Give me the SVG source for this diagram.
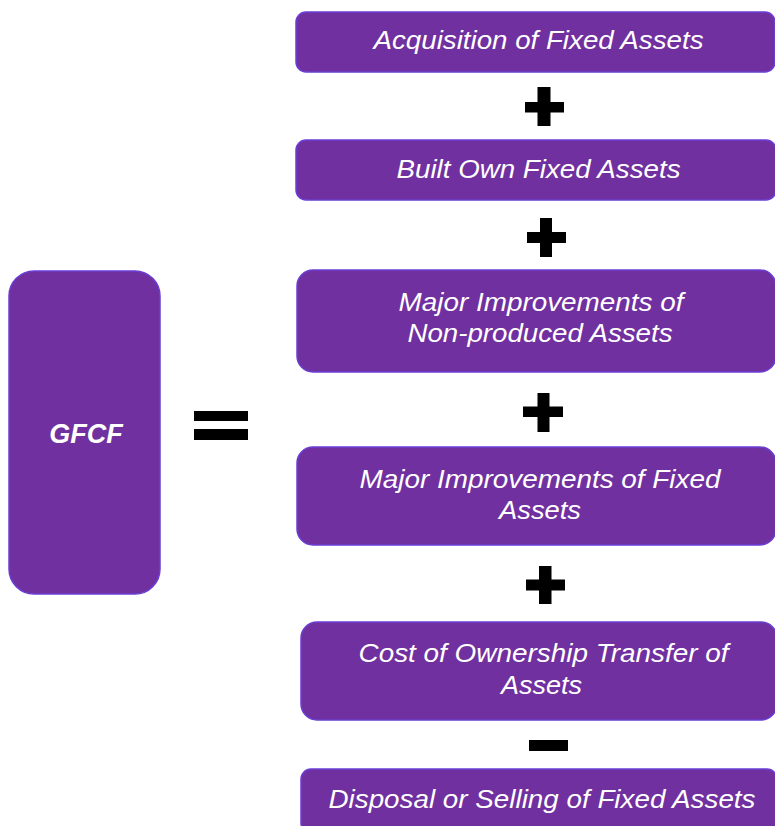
<svg xmlns="http://www.w3.org/2000/svg" width="775" height="826" viewBox="0 0 775 826">
  <style>
    .box { fill: #7030A0; stroke: #6a3ed4; stroke-width: 1.5; }
    .lbl { font-family: "Liberation Sans", Arial, sans-serif; font-style: italic; font-size: 25.5px; fill: #ffffff; text-anchor: middle; }
    .big { font-family: "Liberation Sans", Arial, sans-serif; font-style: italic; font-weight: bold; font-size: 27px; fill: #ffffff; text-anchor: middle; }
    .op { fill: #000000; }
  </style>
  <rect width="775" height="826" fill="#ffffff"/>

  <g id="gfcf">
    <rect class="box" x="9" y="271" width="151" height="323" rx="25" ry="25"/>
    <text class="big" x="86" y="443">GFCF</text>
  </g>

  <g id="n1">
    <rect class="box" x="296" y="12" width="479" height="60" rx="10" ry="10"/>
    <text class="lbl" x="538.5" y="48.5" textLength="330" lengthAdjust="spacingAndGlyphs">Acquisition of Fixed Assets</text>
  </g>
  <g id="n2">
    <rect class="box" x="296" y="140" width="480" height="60" rx="10" ry="10"/>
    <text class="lbl" x="538.5" y="178" textLength="284" lengthAdjust="spacingAndGlyphs">Built Own Fixed Assets</text>
  </g>
  <g id="n3">
    <rect class="box" x="297" y="270" width="479" height="102" rx="16" ry="16"/>
    <text class="lbl" x="541" y="310.5" textLength="285" lengthAdjust="spacingAndGlyphs">Major Improvements of</text>
    <text class="lbl" x="540" y="341.5" textLength="265" lengthAdjust="spacingAndGlyphs">Non-produced Assets</text>
  </g>
  <g id="n4">
    <rect class="box" x="297" y="447" width="479" height="98" rx="16" ry="16"/>
    <text class="lbl" x="540" y="488" textLength="361" lengthAdjust="spacingAndGlyphs">Major Improvements of Fixed</text>
    <text class="lbl" x="540" y="519" textLength="82" lengthAdjust="spacingAndGlyphs">Assets</text>
  </g>
  <g id="n5">
    <rect class="box" x="301" y="622" width="476" height="98" rx="16" ry="16"/>
    <text class="lbl" x="543.5" y="662" textLength="370" lengthAdjust="spacingAndGlyphs">Cost of Ownership Transfer of</text>
    <text class="lbl" x="541.5" y="694" textLength="81" lengthAdjust="spacingAndGlyphs">Assets</text>
  </g>
  <g id="n6">
    <rect class="box" x="301" y="769" width="476" height="64" rx="10" ry="10"/>
    <text class="lbl" x="542" y="807.5" textLength="427" lengthAdjust="spacingAndGlyphs">Disposal or Selling of Fixed Assets</text>
  </g>

  <g id="operators">
    <!-- equals -->
    <rect class="op" x="194" y="411" width="54" height="10"/>
    <rect class="op" x="194" y="429" width="54" height="11"/>
    <!-- plus 1 -->
    <rect class="op" x="525" y="102" width="39" height="10.5"/>
    <rect class="op" x="537.5" y="87" width="13" height="39"/>
    <!-- plus 2 -->
    <rect class="op" x="527" y="232" width="39" height="11"/>
    <rect class="op" x="540" y="218" width="12" height="39"/>
    <!-- plus 3 -->
    <rect class="op" x="523" y="406.5" width="40" height="10.5"/>
    <rect class="op" x="537.5" y="393" width="12" height="39"/>
    <!-- plus 4 -->
    <rect class="op" x="526" y="579.5" width="39" height="11"/>
    <rect class="op" x="539" y="566" width="12.5" height="38"/>
    <!-- minus -->
    <rect class="op" x="529" y="740" width="39" height="11"/>
  </g>
</svg>
